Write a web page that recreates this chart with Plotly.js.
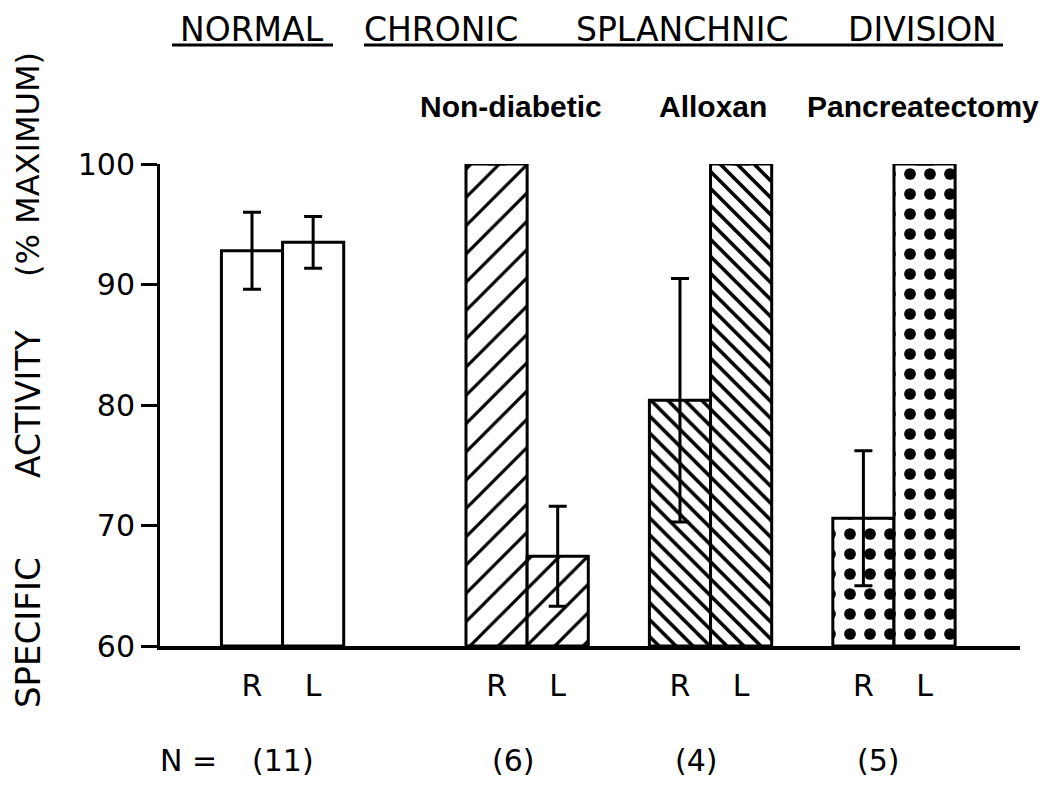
<!DOCTYPE html>
<html><head><meta charset="utf-8">
<script src="https://cdn.plot.ly/plotly-3.0.1.min.js"></script>
<style>html,body{margin:0;padding:0;background:#fff}#chart{width:1050px;height:792px}</style>
</head><body><div id="chart"></div>
<script>
// Category slots (spacers keep the gaps between groups)
const categories = ["N-R","N-L","s1","s2","ND-R","ND-L","s3","A-R","A-L","s4","P-R","P-L"];
const tickLabels = ["R","L","","","R","L","","R","L","","R","L"];

const normalX = ["N-R","N-L"];
const normalValues = [92.8, 93.5];
const normalErr = [3.2, 2.15];

const nonDiabeticX = ["ND-R","ND-L"];
const nonDiabeticValues = [100, 67.45];
const nonDiabeticErr = [null, 4.15];

const alloxanX = ["A-R","A-L"];
const alloxanValues = [80.4, 100];
const alloxanErr = [10.1, null];

const pancreatectomyX = ["P-R","P-L"];
const pancreatectomyValues = [70.6, 100];
const pancreatectomyErr = [5.6, null];

const yTicks = [60, 70, 80, 90, 100];
const BASE = 60;

const groupTitles = ["Non-diabetic", "Alloxan", "Pancreatectomy"];
const nLabels = ["N =", "(11)", "(6)", "(4)", "(5)"];

const FONT = "DejaVu Sans, Liberation Sans, sans-serif";

function barTrace(x, vals, err, pattern) {
  return {
    type: "bar",
    x: x,
    y: vals.map(v => v - BASE),
    base: BASE,
    cliponaxis: false,
    marker: {
      color: "#ffffff",
      line: {color: "#000", width: 3},
      pattern: pattern
    },
    error_y: {type: "data", array: err, visible: true, color: "#000", thickness: 3, width: 9},
    hoverinfo: "skip"
  };
}

const traces = [
  barTrace(normalX, normalValues, normalErr, {shape: ""}),
  barTrace(nonDiabeticX, nonDiabeticValues, nonDiabeticErr,
    {shape: "/", size: 20, solidity: 0.16, fgcolor: "#000", bgcolor: "#fff", fgopacity: 1, fillmode: "overlay"}),
  barTrace(alloxanX, alloxanValues, alloxanErr,
    {shape: "\\", size: 12, solidity: 0.3, fgcolor: "#000", bgcolor: "#fff", fgopacity: 1, fillmode: "overlay"}),
  barTrace(pancreatectomyX, pancreatectomyValues, pancreatectomyErr,
    {shape: ".", size: 20, solidity: 0.27, fgcolor: "#000", bgcolor: "#fff", fgopacity: 1, fillmode: "overlay"})
];

// pixel helpers for annotation placement
const L = 160, R = 1020, T = 164, B = 646;
const px = v => (v - L) / (R - L);
const py = v => (B - v) / (B - T);

const annotations = [];
function ann(text, x, y, size, opts) {
  annotations.push(Object.assign({
    text: text, xref: "paper", yref: "paper", x: px(x), y: py(y),
    xanchor: "center", yanchor: "middle", showarrow: false,
    font: {family: FONT, size: size, color: "#000"}
  }, opts || {}));
}
ann("NORMAL", 252, 29, 33);
ann("CHRONIC", 441, 29, 33);
ann("SPLANCHNIC", 682, 29, 33);
ann("DIVISION", 922, 29, 33);
const groupX = [511, 713, 923];
groupTitles.forEach((t, i) => ann("<b>" + t + "</b>", groupX[i], 106, 30,
  {font: {family: "Liberation Sans, Arial, sans-serif", size: 30, color: "#000"}}));
const nX = [188, 283, 513, 696, 878];
nLabels.forEach((t, i) => ann(t, nX[i], 760, 30));
ann("SPECIFIC", 28, 633, 34, {textangle: -90});
ann("ACTIVITY", 28, 404, 33, {textangle: -90});
ann("(% MAXIMUM)", 28, 165, 32, {textangle: -90});

const shapes = [
  {type: "line", xref: "paper", yref: "paper", x0: px(172), x1: px(333), y0: py(45), y1: py(45), line: {color: "#000", width: 3}},
  {type: "line", xref: "paper", yref: "paper", x0: px(364), x1: px(1003), y0: py(45), y1: py(45), line: {color: "#000", width: 3}}
];

const layout = {
  width: 1050, height: 792,
  margin: {l: L, r: 1050 - R, t: T, b: 792 - B, pad: 0},
  paper_bgcolor: "#fff", plot_bgcolor: "#fff",
  showlegend: false,
  barmode: "overlay", bargap: 0,
  font: {family: FONT, color: "#000"},
  xaxis: {
    type: "category", categoryorder: "array", categoryarray: categories,
    range: [(L - 252) / 61.14, (R - 252) / 61.14],
    tickmode: "array", tickvals: categories, ticktext: tickLabels,
    ticks: "", showgrid: false, zeroline: false,
    showline: true, linecolor: "#000", linewidth: 4,
    tickfont: {family: FONT, size: 30, color: "#000"},
    ticklabelstandoff: 10, fixedrange: true
  },
  yaxis: {
    range: [60, 100], tickmode: "array", tickvals: yTicks,
    ticks: "outside", ticklen: 16, tickwidth: 3, tickcolor: "#000",
    showgrid: false, zeroline: false,
    showline: true, linecolor: "#000", linewidth: 3,
    tickfont: {family: FONT, size: 30, color: "#000"},
    fixedrange: true
  },
  annotations: annotations,
  shapes: shapes
};

Plotly.newPlot("chart", traces, layout, {displayModeBar: false, staticPlot: true});
</script>
</body></html>
